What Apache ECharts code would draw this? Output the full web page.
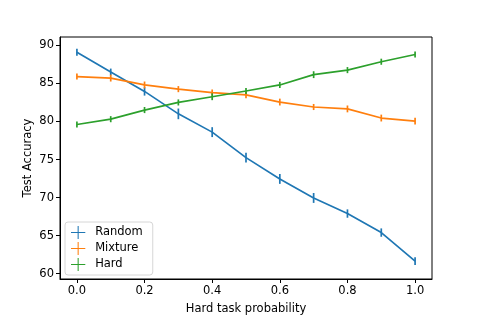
<!DOCTYPE html>
<html>
<head>
<meta charset="utf-8">
<script src="https://cdn.jsdelivr.net/npm/echarts@6/dist/echarts.min.js"></script>
<style>
  html, body { margin: 0; padding: 0; background: #fff; }
  #chart { width: 480px; height: 320px; }
</style>
</head>
<body>
<div id="chart"></div>
<script>
var probs = [0.0, 0.1, 0.2, 0.3, 0.4, 0.5, 0.6, 0.7, 0.8, 0.9, 1.0];
var randomAcc = [89.1, 86.5, 83.95, 81.0, 78.6, 75.25, 72.45, 69.95, 67.9, 65.4, 61.65];
var mixtureAcc = [85.9, 85.7, 84.8, 84.25, 83.8, 83.5, 82.55, 81.9, 81.65, 80.45, 80.05];
var hardAcc = [79.6, 80.3, 81.5, 82.5, 83.25, 84.0, 84.8, 86.15, 86.75, 87.85, 88.8];
var randomErr = [0.45, 0.45, 0.55, 0.7, 0.65, 0.65, 0.65, 0.65, 0.55, 0.55, 0.5];
var mixtureErr = [0.4, 0.45, 0.45, 0.4, 0.4, 0.45, 0.45, 0.4, 0.45, 0.45, 0.45];
var hardErr = [0.4, 0.4, 0.4, 0.4, 0.45, 0.4, 0.4, 0.45, 0.4, 0.4, 0.4];
var xTicks = [0, 0.2, 0.4, 0.6, 0.8, 1.0];
var yTicks = [60, 65, 70, 75, 80, 85, 90];

var font = "DejaVu Sans";
var fs = 11.5;
var plusIcon = "path://M0,9.2h22v1.6h-22z M10.2,0h1.6v20h-1.6z";

function pairs(vals) {
  return probs.map(function (p, i) { return [p, vals[i]]; });
}
function errRows(vals, errs) {
  return probs.map(function (p, i) { return [p, vals[i], errs[i]]; });
}

function lineSeries(name, vals, color) {
  return {
    name: name,
    type: "line",
    data: pairs(vals),
    symbol: "none",
    lineStyle: { color: color, width: 1.7 },
    itemStyle: { color: color },
    z: 3,
    animation: false
  };
}

function errSeries(name, vals, errs, color) {
  return {
    name: name,
    type: "custom",
    data: errRows(vals, errs),
    encode: { x: 0, y: [1] },
    z: 4,
    animation: false,
    renderItem: function (params, api) {
      var x = api.value(0), y = api.value(1), e = api.value(2);
      var lo = api.coord([x, y - e]);
      var hi = api.coord([x, y + e]);
      return {
        type: "line",
        shape: { x1: lo[0], y1: lo[1], x2: hi[0], y2: hi[1] },
        style: { stroke: color, lineWidth: 1.7 }
      };
    }
  };
}

var chart = echarts.init(document.getElementById("chart"));
chart.setOption({
  backgroundColor: "#fff",
  textStyle: { fontFamily: font },
  grid: {
    left: 60, right: 48, top: 37, bottom: 38,
    show: true, borderColor: "#000", borderWidth: 1,
    containLabel: false
  },
  legend: {
    data: [
      { name: "Random", icon: plusIcon },
      { name: "Mixture", icon: plusIcon },
      { name: "Hard", icon: plusIcon }
    ],
    orient: "vertical",
    left: 65,
    top: 222,
    itemWidth: 24,
    itemHeight: 13,
    itemGap: 3,
    padding: [4, 10, 4, 6],
    backgroundColor: "rgba(255,255,255,0.8)",
    borderColor: "#d6d6d6",
    borderWidth: 1,
    borderRadius: 3,
    textStyle: { fontFamily: font, fontSize: fs, color: "#000" }
  },
  xAxis: {
    type: "value",
    min: -0.05,
    max: 1.05,
    name: "Hard task probability",
    nameLocation: "middle",
    nameGap: 24,
    nameTextStyle: { fontFamily: font, fontSize: fs, color: "#000" },
    axisLine: { show: true, onZero: false, lineStyle: { color: "#000", width: 1 } },
    axisTick: { show: true, length: 4, inside: false, customValues: xTicks, lineStyle: { color: "#000" } },
    axisLabel: {
      customValues: xTicks, margin: 6, fontSize: fs, color: "#000", fontFamily: font,
      formatter: function (v) { return v.toFixed(1); }
    },
    splitLine: { show: false }
  },
  yAxis: {
    type: "value",
    min: 59.3,
    max: 91.1,
    name: "Test Accuracy",
    nameLocation: "middle",
    nameGap: 26,
    nameMoveOverlap: false,
    nameTextStyle: { fontFamily: font, fontSize: fs, color: "#000" },
    axisLine: { show: true, onZero: false, lineStyle: { color: "#000", width: 1 } },
    axisTick: { show: true, length: 4, inside: false, customValues: yTicks, lineStyle: { color: "#000" } },
    axisLabel: { customValues: yTicks, margin: 6, fontSize: fs, color: "#000", fontFamily: font },
    splitLine: { show: false }
  },
  series: [
    lineSeries("Random", randomAcc, "#1f77b4"),
    lineSeries("Mixture", mixtureAcc, "#ff7f0e"),
    lineSeries("Hard", hardAcc, "#2ca02c"),
    errSeries("Random", randomAcc, randomErr, "#1f77b4"),
    errSeries("Mixture", mixtureAcc, mixtureErr, "#ff7f0e"),
    errSeries("Hard", hardAcc, hardErr, "#2ca02c")
  ]
});
</script>
</body>
</html>
